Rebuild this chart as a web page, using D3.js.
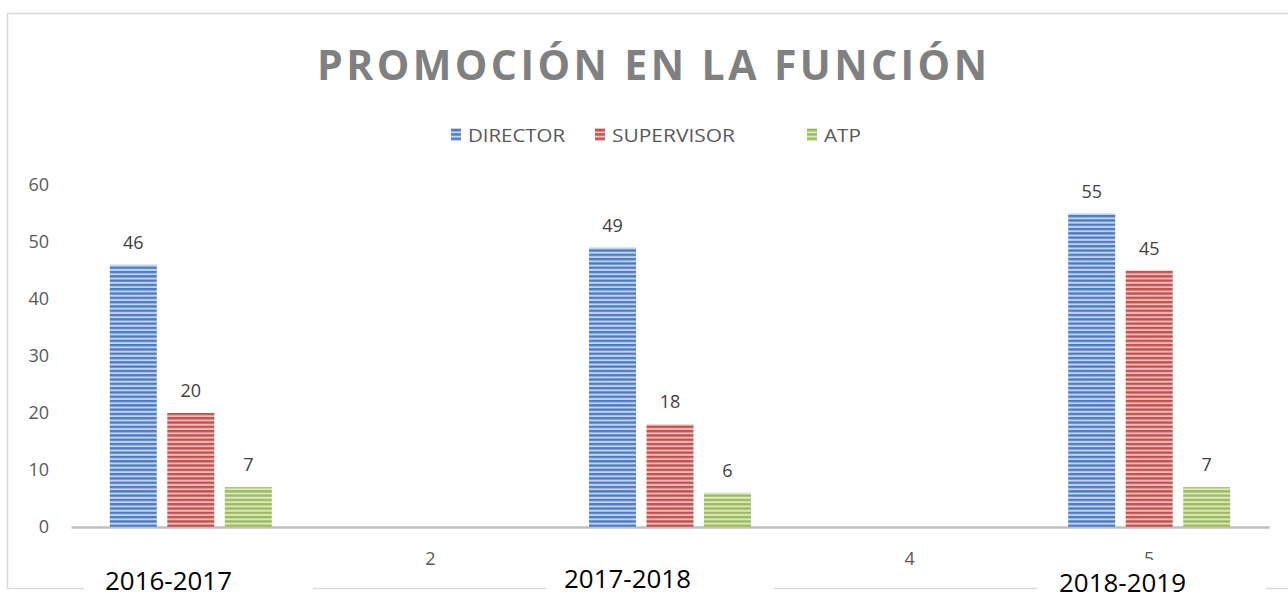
<!DOCTYPE html>
<html>
<head>
<meta charset="utf-8">
<title>Promoción en la función</title>
<script src="https://cdn.jsdelivr.net/npm/d3@7"></script>
<style>
    body { margin: 0; background: #fff; }
    text { font-family: "Open Sans", "Noto Sans", sans-serif; }
</style>
</head>
<body>
<script>
//chart data
var slots = ["1", "2", "3", "4", "5"]; //category axis of the original chart
var shownSlots = ["2", "4", "5"]; //slot numbers not hidden under the year boxes
var years = ["2016-2017", "2017-2018", "2018-2019"]; //labels pasted over slots 1, 3, 5
var yearSlots = ["1", "3", "5"];
var series = ["DIRECTOR", "SUPERVISOR", "ATP"];
var director = [46, 49, 55];
var supervisor = [20, 18, 45];
var atp = [7, 6, 7];
var yTicks = [0, 10, 20, 30, 40, 50, 60];

window.onload = function(){

    var w = 1288, h = 597;

    var svg = d3.select("body")
        .append("svg")
        .attr("width", w)
        .attr("height", h);

    //striped fills, one per series
    var fills = [
        {id: "stripeBlue", dark: "#4a7bc3", light: "#c3d3ec"},
        {id: "stripeRed", dark: "#c2504d", light: "#ecbcbb"},
        {id: "stripeGreen", dark: "#9bbb59", light: "#dbe7c3"}
    ];
    var defs = svg.append("defs");
    fills.forEach(function(f){
        var p = defs.append("pattern")
            .attr("id", f.id)
            .attr("patternUnits", "userSpaceOnUse")
            .attr("width", 8)
            .attr("height", 4.3);
        p.append("rect").attr("width", 8).attr("height", 4.3).attr("fill", f.light);
        p.append("rect").attr("width", 8).attr("height", 2.3).attr("fill", f.dark);
    });

    //chart area border
    svg.append("rect")
        .attr("x", 7.5)
        .attr("y", 13.5)
        .attr("width", 1300)
        .attr("height", 575)
        .attr("fill", "none")
        .attr("stroke", "#d9d9d9")
        .attr("stroke-width", 1.5);

    //title
    svg.append("text")
        .attr("x", 317)
        .attr("y", 80)
        .attr("textLength", 670)
        .attr("lengthAdjust", "spacing")
        .style("font-size", "41px")
        .style("font-weight", "bold")
        .style("fill", "#808080")
        .text("PROMOCIÓN EN LA FUNCIÓN");

    //legend
    var legendX = [451, 595, 807];
    var legendW = [97, 123, 37];
    var legend = svg.selectAll(".legend")
        .data(series)
        .enter()
        .append("g")
        .attr("class", "legend")
        .attr("transform", function(d, i){ return "translate(" + legendX[i] + ",0)"; });
    legend.append("rect")
        .attr("x", 0)
        .attr("y", 128)
        .attr("width", 10)
        .attr("height", 13)
        .attr("fill", function(d, i){ return "url(#" + fills[i].id + ")"; });
    legend.append("text")
        .attr("x", 17)
        .attr("y", 142)
        .attr("textLength", function(d, i){ return legendW[i]; })
        .attr("lengthAdjust", "spacingAndGlyphs")
        .style("font-size", "18px")
        .style("fill", "#595959")
        .text(function(d){ return d; });

    //scales
    var x = d3.scaleBand()
        .domain(slots)
        .range([71, 1269])
        .paddingInner(0.324)
        .paddingOuter(0.162);

    var xSeries = d3.scaleBand()
        .domain(series)
        .range([0, x.bandwidth()])
        .paddingInner(0.183);

    var y = d3.scaleLinear()
        .domain([0, 60])
        .range([527, 185]);

    //y axis labels (no axis line, no gridlines)
    var yAxis = d3.axisLeft(y)
        .tickValues(yTicks)
        .tickSize(0)
        .tickPadding(0);
    var yg = svg.append("g")
        .attr("transform", "translate(49,0)")
        .call(yAxis);
    yg.select(".domain").remove();
    yg.selectAll("text")
        .style("font-family", "'Open Sans', sans-serif")
        .style("font-size", "18px")
        .style("fill", "#595959");

    //x axis: baseline and the slot numbers left visible
    var xAxis = d3.axisBottom(x)
        .tickValues(shownSlots)
        .tickSize(0)
        .tickPadding(25);
    var xg = svg.append("g")
        .attr("transform", "translate(0,527)")
        .call(xAxis);
    xg.select(".domain")
        .attr("stroke", "#bfbfbf")
        .attr("stroke-width", 2.5);
    xg.selectAll("text")
        .style("font-family", "'Open Sans', sans-serif")
        .style("font-size", "18px")
        .style("fill", "#595959");

    //bars, grouped by year
    var rows = years.map(function(yr, i){
        return {slot: yearSlots[i], values: [director[i], supervisor[i], atp[i]]};
    });

    var groups = svg.selectAll(".group")
        .data(rows)
        .enter()
        .append("g")
        .attr("class", "group")
        .attr("transform", function(d){ return "translate(" + x(d.slot) + ",0)"; });

    var cells = groups.selectAll(".bar")
        .data(function(d){
            return d.values.map(function(v, i){ return {name: series[i], value: v, idx: i}; });
        })
        .enter();

    cells.append("rect")
        .attr("class", "bar")
        .attr("x", function(d){ return xSeries(d.name); })
        .attr("y", function(d){ return y(d.value); })
        .attr("width", xSeries.bandwidth())
        .attr("height", function(d){ return y(0) - y(d.value); })
        .attr("fill", function(d){ return "url(#" + fills[d.idx].id + ")"; });

    //value labels above bars
    cells.append("text")
        .attr("x", function(d){ return xSeries(d.name) + xSeries.bandwidth() / 2; })
        .attr("y", function(d){ return y(d.value) - 16; })
        .attr("text-anchor", "middle")
        .style("font-size", "18px")
        .style("fill", "#404040")
        .text(function(d){ return d.value; });

    //white text boxes with the year labels, pasted over the slot numbers
    var boxes = [
        {x: 84, y: 551, w: 229, tx: 105, ty: 590},
        {x: 546, y: 551, w: 228, tx: 564, ty: 588},
        {x: 1037, y: 560, w: 229, tx: 1059, ty: 592}
    ];
    var yearBox = svg.selectAll(".yearBox")
        .data(years)
        .enter()
        .append("g")
        .attr("class", "yearBox");
    yearBox.append("rect")
        .attr("x", function(d, i){ return boxes[i].x; })
        .attr("y", function(d, i){ return boxes[i].y; })
        .attr("width", function(d, i){ return boxes[i].w; })
        .attr("height", 60)
        .attr("fill", "#fff");
    yearBox.append("text")
        .attr("x", function(d, i){ return boxes[i].tx; })
        .attr("y", function(d, i){ return boxes[i].ty; })
        .attr("textLength", 127)
        .attr("lengthAdjust", "spacingAndGlyphs")
        .style("font-size", "25px")
        .style("fill", "#000")
        .text(function(d){ return d; });
};
</script>
</body>
</html>
